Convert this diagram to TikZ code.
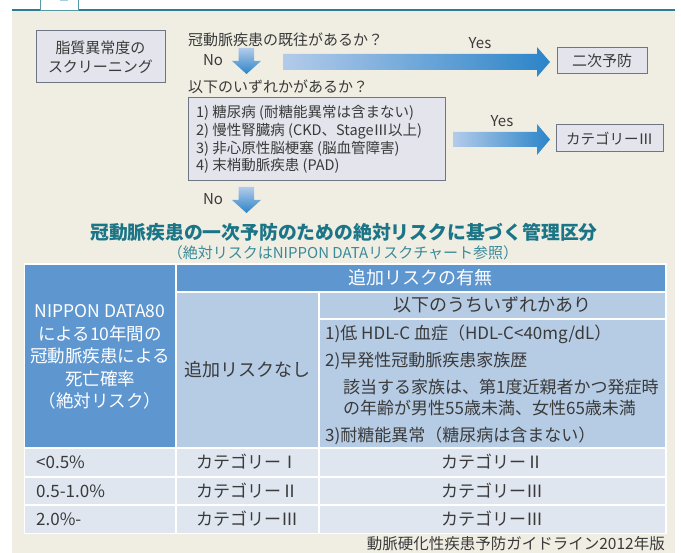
\documentclass[tikz,border=0pt]{standalone}
\usepackage{fontspec}
\setmainfont{Noto Sans CJK JP}
\definecolor{beige}{HTML}{F0EEE3}
\definecolor{tealline}{HTML}{2A7E90}
\definecolor{boxfill}{HTML}{E3E4EC}
\definecolor{boxline}{HTML}{6E7585}
\definecolor{txtc}{HTML}{3A3A3A}
\definecolor{titlec}{HTML}{1B7587}
\definecolor{subc}{HTML}{3A8A9A}
\definecolor{tdark}{HTML}{5E96D0}
\definecolor{tlight}{HTML}{B6CCE4}
\definecolor{trow}{HTML}{DFE6F0}
\definecolor{arrL}{HTML}{B3CBEA}
\definecolor{arrD}{HTML}{2B84C8}
\definecolor{tabblue}{HTML}{A8D0DC}
\begin{document}
\begin{tikzpicture}[x=1pt,y=-1pt,
  txt/.style={inner sep=0pt, text=txtc},
  t15/.style={txt, font=\fontsize{15}{18}\selectfont, text height=13.2pt, text depth=1.8pt},
  t145/.style={txt, font=\fontsize{14.5}{18}\selectfont, text height=12.8pt, text depth=1.7pt},
  t17/.style={txt, font=\fontsize{17}{21}\selectfont, text height=15pt, text depth=2pt},
  t18/.style={txt, font=\fontsize{18}{22}\selectfont, text height=15.8pt, text depth=2.2pt},
  box/.style={draw=boxline, fill=boxfill, line width=1pt, inner sep=0pt},
  harrow/.style={left color=arrL, right color=arrD},
  varrow/.style={top color=arrL, bottom color=arrD},
]
\useasboundingbox (0,0) rectangle (681,553);
\fill[white] (0,0) rectangle (681,553);
% background panel
\fill[beige] (12,10.5) rectangle (675,553);
\draw[tealline, line width=1.5pt] (12,10) -- (675,10);
\draw[tealline!80, line width=0.8pt, fill=white] (40,-1) rectangle (78,10);
\fill[tabblue] (60,0) rectangle (68,1.5);

% flow part
\node[box, minimum width=129pt, minimum height=52pt, align=center, text=txtc,
      font=\fontsize{15}{19.5}\selectfont] (screen) at (100.5,57) {脂質異常度の\\スクリーニング};
\node[t15, anchor=west] (q1) at (188,40) {冠動脈疾患の既往があるか？};
\node[t15] (no1) at (213,60) {No};
\shade[varrow] (238.5,48) -- (254,48) -- (254,61) -- (261,61) -- (246.5,74) -- (232,61) -- (238.5,61) -- cycle;
\node[t15] (yes1) at (480,43) {Yes};
\node[box, t15, minimum width=90pt, minimum height=26pt] (niji) at (602,61) {二次予防};
\shade[harrow] (283,54) -- (537,54) -- (537,47) -- (550,62) -- (537,77) -- (537,70) -- (283,70) -- cycle;

\node[t15, anchor=west] (q2) at (188,87) {以下のいずれかがあるか？};
\node[box, minimum width=257pt, minimum height=83pt] (list) at (316.5,139.5) {};
\node[txt, anchor=west, align=left, font=\fontsize{14.5}{17.7}\selectfont] (items) at (196,139.5)
  {1) 糖尿病 (耐糖能異常は含まない)\\2) 慢性腎臓病 (CKD、StageⅢ以上)\\3) 非心原性脳梗塞 (脳血管障害)\\4) 末梢動脈疾患 (PAD)};
\node[t15] (yes2) at (502,121) {Yes};
\shade[harrow] (453,132) -- (537,132) -- (537,124) -- (550,139.5) -- (537,155) -- (537,147) -- (453,147) -- cycle;
\node[box, t145, minimum width=107pt, minimum height=27pt] (cat3) at (609.5,138.5) {カテゴリーⅢ};

\node[t15] (no2) at (213,199) {No};
\shade[varrow] (238.5,187) -- (254,187) -- (254,200) -- (261,200) -- (246.5,213) -- (232,200) -- (238.5,200) -- cycle;

% titles
\node[inner sep=0pt, text=titlec, font=\bfseries\fontsize{18.8}{22}\selectfont] (title) at (344,232)
  {冠動脈疾患の一次予防のための絶対リスクに基づく管理区分};
\node[inner sep=0pt, text=subc, font=\fontsize{15}{18}\selectfont] (sub) at (343,253)
  {（絶対リスクはNIPPON DATAリスクチャート参照）};

% table
\fill[white] (23.5,263.5) rectangle (666.5,534.5);
\fill[tdark] (25,265) rectangle (175,447);
\fill[tdark] (177,265) rectangle (665,291);
\fill[tlight] (177,293) rectangle (318,447);
\fill[tlight] (320,293) rectangle (665,318);
\fill[tlight] (320,320) rectangle (665,447);
\foreach \ya/\yb in {449/476,478/504,506/533}{
  \fill[trow] (25,\ya) rectangle (175,\yb);
  \fill[trow] (177,\ya) rectangle (318,\yb);
  \fill[trow] (320,\ya) rectangle (665,\yb);
}
\node[inner sep=0pt, text=white, align=center, font=\fontsize{17.5}{22.5}\selectfont] (rowhead) at (100,357)
  {NIPPON DATA80\\による10年間の\\冠動脈疾患による\\死亡確率\\（絶対リスク）};
\node[t18, text=white] (colhead) at (420,278) {追加リスクの有無};
\node[t18] (norisk) at (247,370) {追加リスクなし};
\node[t18] (anyrisk) at (492,305) {以下のうちいずれかあり};
\node[t17, anchor=west] (r1) at (325,333) {1)低 HDL-C 血症（HDL-C<40mg/dL）};
\node[t17, anchor=west] (r2) at (325,360) {2)早発性冠動脈疾患家族歴};
\node[t17, anchor=west] (r2a) at (343,387) {該当する家族は、第1度近親者かつ発症時};
\node[t17, anchor=west] (r2b) at (343,408) {の年齢が男性55歳未満、女性65歳未満};
\node[t17, anchor=west] (r3) at (325,435) {3)耐糖能異常（糖尿病は含まない）};

\node[t17, anchor=west] (p1) at (36,462.5) {<0.5\%};
\node[t17, anchor=west] (p2) at (36,491) {0.5-1.0\%};
\node[t17, anchor=west] (p3) at (36,519.5) {2.0\%-};
\node[t17] (c11) at (247,462.5) {カテゴリーⅠ};
\node[t17] (c21) at (247,491) {カテゴリーⅡ};
\node[t17] (c31) at (247,519.5) {カテゴリーⅢ};
\node[t17] (c12) at (492,462.5) {カテゴリーⅡ};
\node[t17] (c22) at (492,491) {カテゴリーⅢ};
\node[t17] (c32) at (492,519.5) {カテゴリーⅢ};

\node[inner sep=0pt, text=txtc, anchor=east, font=\fontsize{15.5}{18}\selectfont] (src) at (665,544)
  {動脈硬化性疾患予防ガイドライン2012年版};
\end{tikzpicture}
\end{document}
